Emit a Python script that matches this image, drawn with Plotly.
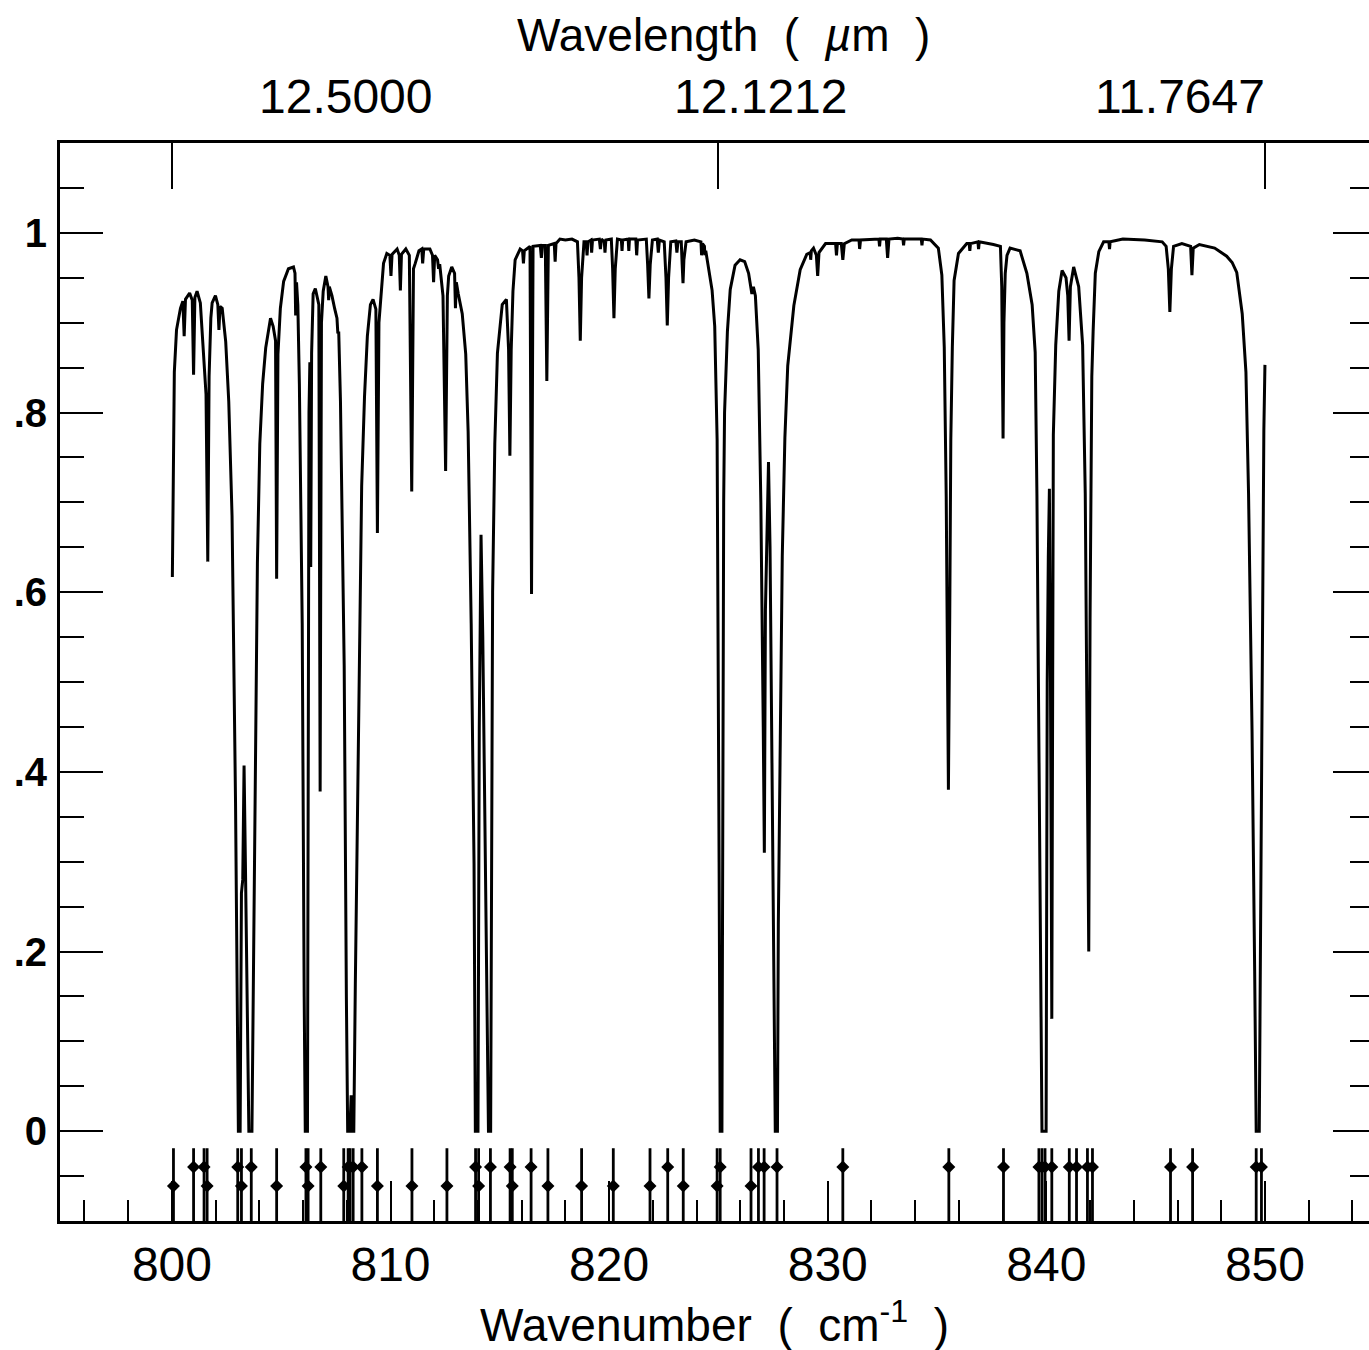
import plotly.graph_objects as go

# ---------------- data ----------------
wavenumber = [
    800.02, 800.06, 800.11, 800.21, 800.39, 800.50, 800.56, 800.62, 800.81, 800.93,
    800.99, 801.05, 801.15, 801.30, 801.47, 801.56, 801.64, 801.70, 801.78, 801.84,
    801.99, 802.10, 802.15, 802.20, 802.30, 802.46, 802.60, 802.75, 802.91, 803.00,
    803.04, 803.12, 803.18, 803.24, 803.30, 803.36, 803.45, 803.52, 803.66, 803.78,
    803.84, 803.91, 804.02, 804.15, 804.29, 804.51, 804.63, 804.74, 804.79, 804.85,
    804.96, 805.11, 805.33, 805.56, 805.63, 805.66, 805.70, 805.76, 805.83, 805.96,
    806.05, 806.10, 806.20, 806.23, 806.27, 806.31, 806.35, 806.39, 806.46, 806.56,
    806.72, 806.78, 806.84, 806.92, 807.04, 807.14, 807.17, 807.20, 807.32, 807.45,
    807.55, 807.59, 807.63, 807.71, 807.88, 807.98, 808.04, 808.14, 808.20, 808.26,
    808.32, 808.39, 808.49, 808.58, 808.68, 808.81, 808.94, 809.08, 809.20, 809.33,
    809.40, 809.47, 809.54, 809.68, 809.83, 809.97, 810.02, 810.07, 810.30, 810.40,
    810.45, 810.50, 810.70, 810.86, 810.97, 811.05, 811.13, 811.30, 811.43, 811.47,
    811.52, 811.80, 811.92, 811.97, 812.02, 812.15, 812.20, 812.25, 812.40, 812.52,
    812.60, 812.66, 812.80, 812.93, 812.97, 813.01, 813.10, 813.28, 813.44, 813.55,
    813.69, 813.82, 813.88, 814.00, 814.06, 814.14, 814.22, 814.35, 814.48, 814.58,
    814.62, 814.67, 814.77, 814.89, 815.11, 815.30, 815.40, 815.46, 815.52, 815.60,
    815.70, 815.93, 816.04, 816.08, 816.12, 816.38, 816.45, 816.52, 816.85, 816.90,
    816.95, 817.08, 817.15, 817.22, 817.49, 817.53, 817.57, 817.75, 818.00, 818.30,
    818.55, 818.62, 818.68, 818.74, 818.85, 818.95, 818.99, 819.03, 819.17, 819.20,
    819.24, 819.55, 819.60, 819.65, 819.78, 819.81, 819.85, 820.10, 820.16, 820.22,
    820.28, 820.38, 820.56, 820.59, 820.62, 820.87, 820.90, 820.93, 821.22, 821.26,
    821.30, 821.70, 821.76, 821.82, 821.88, 821.98, 822.20, 822.25, 822.30, 822.52,
    822.60, 822.66, 822.72, 822.82, 823.05, 823.10, 823.15, 823.30, 823.34, 823.38,
    823.42, 823.52, 823.90, 824.20, 824.23, 824.27, 824.36, 824.38, 824.42, 824.55,
    824.71, 824.83, 824.94, 825.03, 825.08, 825.16, 825.21, 825.24, 825.28, 825.41,
    825.54, 825.76, 825.99, 826.20, 826.38, 826.45, 826.53, 826.60, 826.69, 826.82,
    826.94, 827.05, 827.10, 827.15, 827.22, 827.29, 827.36, 827.45, 827.55, 827.60,
    827.70, 827.74, 827.83, 827.92, 828.04, 828.17, 828.45, 828.74, 829.04, 829.20,
    829.22, 829.25, 829.35, 829.48, 829.54, 829.60, 829.90, 830.36, 830.40, 830.44,
    830.62, 830.69, 830.76, 831.10, 831.43, 831.46, 831.50, 832.00, 832.34, 832.37,
    832.40, 832.68, 832.74, 832.80, 833.20, 833.44, 833.47, 833.50, 834.00, 834.28,
    834.31, 834.34, 834.70, 835.06, 835.22, 835.33, 835.42, 835.52, 835.58, 835.63,
    835.70, 835.78, 835.98, 836.36, 836.47, 836.50, 836.53, 836.87, 836.90, 836.93,
    837.58, 837.90, 837.96, 838.02, 838.06, 838.12, 838.20, 838.34, 838.80, 839.11,
    839.35, 839.49, 839.57, 839.65, 839.74, 839.80, 839.99, 840.04, 840.09, 840.14,
    840.19, 840.25, 840.29, 840.32, 840.43, 840.57, 840.72, 840.90, 840.98, 841.04,
    841.10, 841.25, 841.48, 841.66, 841.78, 841.88, 841.94, 842.00, 842.04, 842.08,
    842.14, 842.24, 842.40, 842.62, 842.86, 842.89, 842.92, 843.50, 844.50, 845.30,
    845.48, 845.58, 845.65, 845.72, 845.82, 846.20, 846.60, 846.66, 846.72, 847.00,
    847.70, 848.25, 848.50, 848.71, 848.96, 849.13, 849.25, 849.41, 849.53, 849.60,
    849.74, 849.80, 849.84, 849.90, 849.95, 850.00,
]

transmittance = [
    0.617, 0.745, 0.845, 0.892, 0.916, 0.924, 0.885, 0.926, 0.933, 0.925,
    0.842, 0.928, 0.935, 0.922, 0.860, 0.820, 0.634, 0.840, 0.905, 0.922,
    0.930, 0.920, 0.892, 0.918, 0.916, 0.879, 0.812, 0.685, 0.365, 0.050,
    0.000, 0.000, 0.265, 0.280, 0.407, 0.300, 0.100, 0.000, 0.000, 0.298,
    0.498, 0.632, 0.765, 0.832, 0.872, 0.905, 0.896, 0.880, 0.615, 0.865,
    0.916, 0.946, 0.960, 0.962, 0.955, 0.908, 0.945, 0.920, 0.832, 0.565,
    0.150, 0.000, 0.000, 0.450, 0.800, 0.856, 0.628, 0.866, 0.932, 0.938,
    0.920, 0.378, 0.900, 0.935, 0.952, 0.940, 0.925, 0.940, 0.930, 0.915,
    0.905, 0.888, 0.890, 0.812, 0.518, 0.150, 0.000, 0.000, 0.040, 0.000,
    0.000, 0.164, 0.365, 0.565, 0.718, 0.818, 0.885, 0.920, 0.926, 0.915,
    0.666, 0.900, 0.920, 0.966, 0.977, 0.975, 0.952, 0.976, 0.982, 0.975,
    0.936, 0.976, 0.982, 0.975, 0.712, 0.960, 0.966, 0.980, 0.982, 0.966,
    0.982, 0.982, 0.975, 0.945, 0.975, 0.970, 0.960, 0.965, 0.930, 0.735,
    0.930, 0.952, 0.962, 0.955, 0.916, 0.945, 0.932, 0.910, 0.865, 0.779,
    0.565, 0.298, 0.000, 0.000, 0.450, 0.664, 0.550, 0.250, 0.000, 0.000,
    0.300, 0.600, 0.765, 0.866, 0.920, 0.926, 0.870, 0.752, 0.870, 0.935,
    0.970, 0.982, 0.980, 0.966, 0.980, 0.985, 0.598, 0.985, 0.986, 0.972,
    0.986, 0.986, 0.835, 0.986, 0.988, 0.968, 0.988, 0.993, 0.992, 0.993,
    0.990, 0.950, 0.880, 0.950, 0.990, 0.990, 0.975, 0.990, 0.992, 0.978,
    0.992, 0.993, 0.982, 0.993, 0.990, 0.978, 0.992, 0.993, 0.960, 0.905,
    0.960, 0.993, 0.992, 0.980, 0.992, 0.993, 0.980, 0.993, 0.993, 0.975,
    0.992, 0.993, 0.965, 0.927, 0.965, 0.992, 0.993, 0.978, 0.992, 0.990,
    0.950, 0.897, 0.950, 0.990, 0.991, 0.978, 0.990, 0.990, 0.965, 0.944,
    0.970, 0.990, 0.992, 0.990, 0.975, 0.988, 0.985, 0.975, 0.980, 0.962,
    0.936, 0.896, 0.770, 0.300, 0.000, 0.000, 0.535, 0.700, 0.800, 0.890,
    0.937, 0.964, 0.970, 0.968, 0.955, 0.945, 0.932, 0.940, 0.930, 0.870,
    0.700, 0.450, 0.310, 0.580, 0.680, 0.745, 0.650, 0.430, 0.120, 0.000,
    0.000, 0.230, 0.437, 0.640, 0.772, 0.852, 0.919, 0.959, 0.976, 0.978,
    0.970, 0.980, 0.983, 0.975, 0.952, 0.978, 0.988, 0.988, 0.975, 0.988,
    0.988, 0.970, 0.988, 0.992, 0.992, 0.982, 0.992, 0.993, 0.993, 0.985,
    0.993, 0.993, 0.972, 0.993, 0.994, 0.993, 0.986, 0.993, 0.993, 0.993,
    0.986, 0.993, 0.992, 0.983, 0.953, 0.873, 0.706, 0.380, 0.570, 0.770,
    0.873, 0.947, 0.977, 0.988, 0.988, 0.980, 0.988, 0.990, 0.982, 0.990,
    0.987, 0.985, 0.940, 0.771, 0.900, 0.955, 0.975, 0.983, 0.980, 0.955,
    0.920, 0.867, 0.707, 0.440, 0.150, 0.000, 0.000, 0.500, 0.640, 0.715,
    0.500, 0.125, 0.500, 0.775, 0.875, 0.935, 0.958, 0.950, 0.930, 0.880,
    0.940, 0.962, 0.940, 0.875, 0.710, 0.350, 0.200, 0.570, 0.740, 0.840,
    0.890, 0.955, 0.979, 0.990, 0.990, 0.982, 0.990, 0.993, 0.992, 0.990,
    0.985, 0.960, 0.912, 0.960, 0.985, 0.988, 0.985, 0.953, 0.983, 0.987,
    0.983, 0.974, 0.967, 0.956, 0.910, 0.845, 0.710, 0.445, 0.178, 0.000,
    0.000, 0.250, 0.450, 0.650, 0.780, 0.853,
]

# line positions marked below the spectrum, and the level of each dot
line_positions = [
    800.07, 800.99, 801.47, 801.61, 803.01, 803.18, 803.63, 804.79, 806.13, 806.23,
    806.81, 807.86, 808.06, 808.15, 808.29, 808.69, 809.40, 810.98, 812.58, 813.89,
    814.03, 814.57, 815.47, 815.57, 816.43, 817.20, 818.74, 820.19, 821.87, 822.68,
    823.39, 824.94, 825.08, 826.49, 826.83, 827.09, 827.68, 830.69, 835.54, 838.04,
    839.66, 839.80, 839.94, 840.25, 841.05, 841.38, 841.88, 842.11, 845.68, 846.69,
    849.60, 849.84,
]
dot_levels = [
    -0.061, -0.040, -0.040, -0.061, -0.040, -0.061, -0.040, -0.061, -0.040, -0.061,
    -0.040, -0.061, -0.040, -0.040, -0.040, -0.040, -0.061, -0.061, -0.061, -0.040,
    -0.061, -0.040, -0.040, -0.061, -0.040, -0.061, -0.061, -0.061, -0.061, -0.040,
    -0.061, -0.061, -0.040, -0.061, -0.040, -0.040, -0.040, -0.040, -0.040, -0.040,
    -0.040, -0.040, -0.040, -0.040, -0.040, -0.040, -0.040, -0.040, -0.040, -0.040,
    -0.040, -0.040,
]

x_major_ticks = [800, 810, 820, 830, 840, 850]
x_minor_ticks = [796, 798, 802, 804, 806, 808, 812, 814, 816, 818, 822, 824, 826,
                 828, 832, 834, 836, 838, 842, 844, 846, 848, 852, 854]
y_major_ticks = [0, 0.2, 0.4, 0.6, 0.8, 1.0]
y_tick_text = ["0", ".2", ".4", ".6", ".8", "1"]
y_minor_ticks = [-0.05, 0.05, 0.1, 0.15, 0.25, 0.3, 0.35, 0.45, 0.5, 0.55, 0.65,
                 0.7, 0.75, 0.85, 0.9, 0.95, 1.05]
top_tick_wn = [800, 825, 850]
wavelength_labels = ["12.5000", "12.1212", "11.7647"]
wavelength_label_pos = [807.96, 826.94, 846.11]

X_RANGE = [794.88, 854.76]
Y_RANGE = [-0.1, 1.1]
STICK_TOP = -0.019

# ---------------- figure ----------------
fig = go.Figure()

fig.add_trace(go.Scatter(x=wavenumber, y=transmittance, mode="lines",
                         line=dict(color="black", width=3.0), hoverinfo="skip",
                         showlegend=False))

sx, sy = [], []
for p in line_positions:
    sx += [p, p, None]
    sy += [Y_RANGE[0], STICK_TOP, None]
fig.add_trace(go.Scatter(x=sx, y=sy, mode="lines",
                         line=dict(color="black", width=2.8), hoverinfo="skip",
                         showlegend=False))
fig.add_trace(go.Scatter(x=line_positions, y=dot_levels, mode="markers",
                         marker=dict(symbol="diamond", size=10, color="black"),
                         hoverinfo="skip", showlegend=False))

# helper trace for the top / right axes
fig.add_trace(go.Scatter(x=[820], y=[0.5], xaxis="x2", yaxis="y2", mode="markers",
                         marker=dict(opacity=0), hoverinfo="skip", showlegend=False))

axis_common = dict(showgrid=False, zeroline=False, linecolor="black",
                   tickcolor="black", automargin=False)

fig.update_layout(
    width=1369, height=1350, autosize=False,
    margin=dict(l=60, r=0, t=143, b=129, autoexpand=False),
    paper_bgcolor="white", plot_bgcolor="white",
    xaxis=dict(range=X_RANGE, showline=True, linewidth=2.6,
               ticks="inside", tickvals=x_major_ticks, ticklen=40, tickwidth=2.4,
               minor=dict(tickvals=x_minor_ticks, ticks="inside", ticklen=21,
                          tickwidth=2.4, tickcolor="black"),
               tickfont=dict(family="Liberation Sans Narrow, Arial Narrow, Liberation Sans",
                             size=48, color="black"),
               ticklabelstandoff=0, **axis_common),
    xaxis2=dict(range=X_RANGE, overlaying="x", side="top", anchor="y2", showline=True,
                linewidth=2.6, ticks="inside", tickvals=top_tick_wn, ticklen=46,
                tickwidth=2.4, showticklabels=False, **axis_common),
    yaxis=dict(range=Y_RANGE, showline=True, linewidth=3,
               ticks="inside", tickvals=y_major_ticks, ticktext=y_tick_text,
               ticklen=43, tickwidth=2.4,
               minor=dict(tickvals=y_minor_ticks, ticks="inside", ticklen=24,
                          tickwidth=2.4, tickcolor="black"),
               tickfont=dict(family="Liberation Sans, Arial", size=40, color="black",
                             weight="bold"),
               ticklabelstandoff=2, **axis_common),
    yaxis2=dict(range=Y_RANGE, overlaying="y", side="right", anchor="x2", showline=False,
                ticks="inside", tickvals=y_major_ticks, ticklen=36, tickwidth=2.4,
                minor=dict(tickvals=y_minor_ticks, ticks="inside", ticklen=19,
                           tickwidth=2.4, tickcolor="black"),
                showticklabels=False, **axis_common),
)

label_font = dict(family="Liberation Sans, Arial", size=48, color="black")
for pos, txt in zip(wavelength_label_pos, wavelength_labels):
    fig.add_annotation(x=pos, xref="x", y=1.0427, yref="paper", text=txt,
                       showarrow=False, font=label_font, xanchor="center",
                       yanchor="middle")

nb = "\u00a0"
fig.add_annotation(x=0.507, xref="paper", y=1.1002, yref="paper",
                   text=f"Wavelength{nb}{nb}({nb}{nb}<i>\u00b5</i>m{nb}{nb})",
                   showarrow=False, font=dict(family="Liberation Sans, Arial", size=46,
                                              color="black"),
                   xanchor="center", yanchor="middle")
fig.add_annotation(x=0.50, xref="paper", y=-0.094, yref="paper",
                   text=f"Wavenumber{nb}{nb}({nb}{nb}cm<sup>-1</sup>{nb}{nb})",
                   showarrow=False, font=dict(family="Liberation Sans, Arial", size=46,
                                              color="black"),
                   xanchor="center", yanchor="middle")

fig.write_html(
    "out.html",
    config={"responsive": False, "displayModeBar": False},
    post_script="document.body.style.margin='0';document.body.style.padding='0';"
                "document.body.style.overflow='hidden';",
)
